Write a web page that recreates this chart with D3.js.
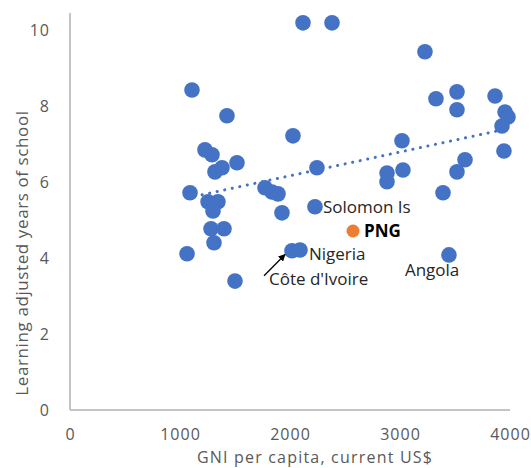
<!DOCTYPE html>
<html>
<head>
<meta charset="utf-8">
<script src="https://cdn.jsdelivr.net/npm/d3@7"></script>
<style>
  html, body { margin: 0; padding: 0; background: #fff; }
  svg { display: block; }
  text { font-family: "Open Sans", sans-serif; }
</style>
</head>
<body>
<svg id="chart" width="531" height="468"></svg>
<script>
// GNI per capita (current US$) and learning adjusted years of school
const gni = [1109, 1427, 1227, 1291, 1318, 1382, 1518, 1091, 1255, 1345, 1300, 1282, 1400, 1309, 1064, 1500,
             2027, 2245, 1773, 1836, 1891, 1927, 2227, 2018, 2091, 2118, 2382,
             3227, 3327, 3518, 3518, 3864, 3955, 3982, 3927, 3945, 3591, 3518, 3391, 2882, 2882, 3027, 3018, 3445];
const lays = [8.44, 7.76, 6.86, 6.73, 6.28, 6.39, 6.52, 5.73, 5.49, 5.49, 5.25, 4.78, 4.78, 4.41, 4.12, 3.40,
              7.23, 6.39, 5.86, 5.75, 5.70, 5.20, 5.36, 4.20, 4.22, 10.21, 10.21,
              9.45, 8.21, 8.39, 7.92, 8.28, 7.86, 7.73, 7.49, 6.83, 6.60, 6.28, 5.73, 6.25, 6.02, 6.33, 7.10, 4.09];
const pngPoint = [2573, 4.72];
const trendX = [1064, 3982];
const trendY = [5.59, 7.42];
const xTicks = [0, 1000, 2000, 3000, 4000];
const yTicks = [0, 2, 4, 6, 8, 10];
const labels = [
  {text: "Solomon Is", x: 2227, y: 5.36, bold: false},
  {text: "PNG", x: 2573, y: 4.72, bold: true},
  {text: "Nigeria", x: 2091, y: 4.22, bold: false},
  {text: "Côte d'Ivoire", x: 2018, y: 4.20, bold: false},
  {text: "Angola", x: 3445, y: 4.09, bold: false}
];

const svg = d3.select("#chart");
const x = d3.scaleLinear().domain([0, 4000]).range([70, 510]);
const y = d3.scaleLinear().domain([0, 10.47]).range([410, 13]);

// axis lines
svg.append("line").attr("x1", x(0)).attr("x2", x(0)).attr("y1", y(10.47)).attr("y2", y(0))
  .attr("stroke", "#c4c4c4").attr("stroke-width", 2);
svg.append("line").attr("x1", x(0)).attr("x2", x(4000)).attr("y1", y(0)).attr("y2", y(0))
  .attr("stroke", "#c4c4c4").attr("stroke-width", 2);

const yAxis = svg.append("g").attr("transform", `translate(${x(0)},0)`)
  .call(d3.axisLeft(y).tickValues(yTicks).tickFormat(d3.format("d")).tickSize(0).tickPadding(20));
const xAxis = svg.append("g").attr("transform", `translate(0,${y(0)})`)
  .call(d3.axisBottom(x).tickValues(xTicks).tickFormat(d3.format("d")).tickSize(0).tickPadding(19));
[yAxis, xAxis].forEach(g => {
  g.select(".domain").remove();
  g.selectAll("text").attr("font-size", 16).attr("fill", "#595959")
    .attr("letter-spacing", "1px")
    .attr("font-family", "'Open Sans', sans-serif");
});

// axis titles
svg.append("text").attr("x", 315).attr("y", 463).attr("text-anchor", "middle")
  .attr("font-size", 16).attr("letter-spacing", "1.2px").attr("fill", "#595959")
  .text("GNI per capita, current US$");
svg.append("text").attr("transform", "translate(28,253) rotate(-90)").attr("text-anchor", "middle")
  .attr("font-size", 17).attr("letter-spacing", "0.6px").attr("fill", "#595959")
  .text("Learning adjusted years of school");

// trendline
svg.append("line")
  .attr("x1", x(trendX[0])).attr("y1", y(trendY[0]))
  .attr("x2", x(trendX[1])).attr("y2", y(trendY[1]))
  .attr("stroke", "#4472C4").attr("stroke-width", 3)
  .attr("stroke-linecap", "round").attr("stroke-dasharray", "0.1,7.6");

// points
svg.append("g").selectAll("circle").data(d3.zip(gni, lays)).join("circle")
  .attr("cx", d => x(d[0])).attr("cy", d => y(d[1])).attr("r", 7.8)
  .attr("fill", "#4472C4");
svg.append("circle").attr("cx", x(pngPoint[0])).attr("cy", y(pngPoint[1])).attr("r", 6.5)
  .attr("fill", "#ED7D31");

// labels
const lab = svg.append("g").attr("font-size", 17).attr("fill", "#262626");
const offsets = {
  "Solomon Is": [8, 0],
  "PNG": [11, 0],
  "Nigeria": [9, 4],
  "Côte d'Ivoire": [-23, 28],
  "Angola": [-44, 15]
};
labels.forEach(l => {
  const o = offsets[l.text];
  lab.append("text").attr("x", x(l.x) + o[0]).attr("y", y(l.y) + o[1]).attr("dy", "0.35em")
    .attr("font-weight", l.bold ? "bold" : "normal")
    .attr("fill", l.bold ? "#000" : "#262626").text(l.text);
});

// arrow to Côte d'Ivoire
svg.append("defs").append("marker").attr("id", "ah").attr("viewBox", "0 0 10 10")
  .attr("refX", 9).attr("refY", 5).attr("markerWidth", 5.5).attr("markerHeight", 5.5)
  .attr("orient", "auto").append("path").attr("d", "M0,0L10,5L0,10z").attr("fill", "#000");
svg.append("line").attr("x1", x(1764)).attr("y1", y(3.54))
  .attr("x2", x(1955)).attr("y2", y(4.1))
  .attr("stroke", "#000").attr("stroke-width", 1.3).attr("marker-end", "url(#ah)");
</script>
</body>
</html>
